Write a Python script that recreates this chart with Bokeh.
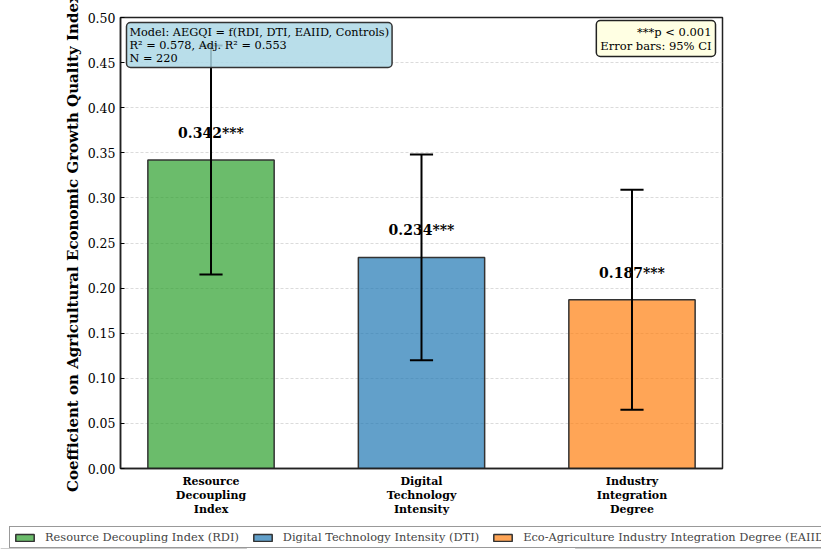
from bokeh.plotting import figure
from bokeh.layouts import column, row
from bokeh.models import (ColumnDataSource, Label, Legend, LegendItem, FixedTicker,
                          Range1d)
from bokeh.core.properties import value
from bokeh.embed import file_html
from bokeh.resources import INLINE

# Regression coefficients with 95% confidence intervals
tick_labels = ["Resource\nDecoupling\nIndex", "Digital\nTechnology\nIntensity",
               "Industry\nIntegration\nDegree"]
legend_names = ["Resource Decoupling Index (RDI)", "Digital Technology Intensity (DTI)",
                "Eco-Agriculture Industry Integration Degree (EAIID)"]
coefficients = [0.342, 0.234, 0.187]
ci_lower = [0.215, 0.120, 0.065]
ci_upper = [0.469, 0.348, 0.309]
significance = ["***", "***", "***"]
colors = ["#2ca02c", "#1f77b4", "#ff7f0e"]

FONT = "DejaVu Serif"
xs = list(range(len(coefficients)))

p = figure(width=821, height=520, output_backend="svg", toolbar_location=None,
           x_range=Range1d(-0.43, 2.43), y_range=Range1d(0, 0.5),
           min_border_left=120, min_border_right=99, min_border_top=17,
           min_border_bottom=52)

src = ColumnDataSource(dict(x=xs, top=coefficients, color=colors, name=legend_names,
                            lo=ci_lower, hi=ci_upper,
                            lbl=[f"{c:.3f}{s}" for c, s in zip(coefficients, significance)],
                            ly=[c + 0.03 for c in coefficients],
                            cl=[x - 0.055 for x in xs], cr=[x + 0.055 for x in xs]))

bar_style = dict(width=0.6, fill_color="color", fill_alpha=0.7,
                 line_color="#333333", line_width=1.5)
p.vbar(x="x", top="top", source=src, **bar_style)

# error bars with caps
p.segment(x0="x", y0="lo", x1="x", y1="hi", source=src, line_color="black", line_width=2)
p.segment(x0="cl", y0="lo", x1="cr", y1="lo", source=src, line_color="black", line_width=2)
p.segment(x0="cl", y0="hi", x1="cr", y1="hi", source=src, line_color="black", line_width=2)

p.text(x="x", y="ly", text="lbl", source=src, text_align="center",
       text_baseline="middle", text_font=value(FONT), text_font_size=value("14px"),
       text_font_style="bold", text_color="black")

# axes
p.xaxis.ticker = FixedTicker(ticks=xs)
p.xaxis.major_label_overrides = {i: t for i, t in enumerate(tick_labels)}
p.xaxis.major_label_text_font = FONT
p.xaxis.major_label_text_font_size = "11px"
p.xaxis.major_label_text_font_style = "bold"
p.xaxis.major_label_text_color = "black"
p.xaxis.major_label_text_line_height = 1.1
p.xaxis.major_tick_line_color = None
p.xaxis.minor_tick_line_color = None
p.xaxis.axis_line_color = "#222222"
p.xaxis.axis_line_width = 1.5
p.xaxis.major_label_standoff = 0

p.yaxis.ticker = FixedTicker(ticks=[i * 0.05 for i in range(11)])
p.yaxis.major_label_overrides = {i * 0.05: f"{i * 0.05:.2f}" for i in range(11)}
p.yaxis.major_label_text_font = FONT
p.yaxis.major_label_text_font_size = "12.5px"
p.yaxis.major_label_text_color = "black"
p.yaxis.major_tick_in = 4
p.yaxis.major_tick_out = 0
p.yaxis.minor_tick_line_color = None
p.yaxis.axis_line_color = "#222222"
p.yaxis.axis_line_width = 1.5
p.yaxis.axis_label = "Coefficient on Agricultural Economic Growth Quality Index"
p.yaxis.axis_label_text_font = FONT
p.yaxis.axis_label_text_font_size = "15px"
p.yaxis.axis_label_text_font_style = "bold"
p.yaxis.axis_label_text_color = "black"
p.yaxis.axis_label_standoff = 3

p.xgrid.grid_line_color = None
p.ygrid.grid_line_color = "#cccccc"
p.ygrid.grid_line_dash = "3 2"
p.ygrid.grid_line_alpha = 0.7

p.outline_line_color = "#222222"
p.outline_line_width = 1.5
p.outline_line_alpha = 1

# annotation boxes
p.add_layout(Label(x=6, y=446, x_units="screen", y_units="screen", anchor="top_left",
                   text="Model: AEGQI = f(RDI, DTI, EAIID, Controls)\nR\u00b2 = 0.578, Adj. R\u00b2 = 0.553\nN = 220",
                   text_font=FONT, text_font_size="11.3px", text_color="black",
                   text_line_height=1.0,
                   background_fill_color="#add8e6", background_fill_alpha=0.85,
                   border_line_color="#333333", border_line_width=1.5,
                   border_radius=4, padding=3))
p.add_layout(Label(x=595, y=448, x_units="screen", y_units="screen", anchor="top_right",
                   text="***p < 0.001\nError bars: 95% CI", text_align="right",
                   text_font=FONT, text_font_size="11.5px", text_color="black",
                   text_line_height=1.0,
                   background_fill_color="#ffffe0", background_fill_alpha=0.9,
                   border_line_color="#222222", border_line_width=1.5,
                   border_radius=4, padding=4))

# legend strip along the bottom; its bars sit below the visible y range
leg = figure(width=821, height=29, output_backend="svg", toolbar_location=None,
             x_range=Range1d(0, 1), y_range=Range1d(10, 11),
             min_border=0, x_axis_type=None, y_axis_type=None)
leg.outline_line_color = None
leg.grid.grid_line_color = None
leg_bars = leg.vbar(x="x", top="top", bottom=-1, source=src, **bar_style)
items = [LegendItem(label=legend_names[i], renderers=[leg_bars], index=i) for i in xs]
legend = Legend(items=items, orientation="horizontal", location=(9, 1),
                label_text_font=FONT, label_text_font_size="11.4px",
                glyph_width=23, glyph_height=9, spacing=12, padding=3,
                label_standoff=9, margin=0, label_height=12,
                border_line_color="#333333", border_line_width=1,
                background_fill_color="white", background_fill_alpha=1)
leg.add_layout(legend, "center")

open("out.html", "w").write(file_html(column(p, row(leg), spacing=0), INLINE))
